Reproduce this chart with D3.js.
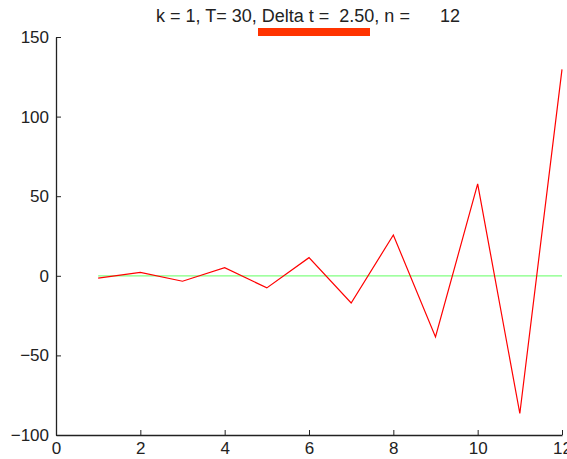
<!DOCTYPE html>
<html><head><meta charset="utf-8">
<script src="https://cdn.jsdelivr.net/npm/d3@7"></script>
<style>body{margin:0;background:#fff}svg{display:block}</style>
</head><body>
<script>
const steps = [1,2,3,4,5,6,7,8,9,10,11,12];
const approx = [-1.5, 2.2, -3.4, 5.1, -7.6, 11.4, -17.1, 25.6, -38.4, 57.7, -86.5, 129.7];
const exact = [0,0,0,0,0,0,0,0,0,0,0,0];
const xTicks = [0,2,4,6,8,10,12];
const yTicks = [-100,-50,0,50,100,150];
const title = "k = 1, T= 30, Delta t =  2.50, n =      12";

const W = 567, H = 459;
const svg = d3.select("body").append("svg").attr("width", W).attr("height", H);
const x = d3.scaleLinear().domain([0,12]).range([56, 562]);
const y = d3.scaleLinear().domain([-100,150]).range([435, 37]);
const font = "Liberation Sans, Arial, sans-serif";

// green reference line
svg.append("path").datum(steps.map((s,i)=>[s, exact[i]]))
  .attr("fill","none").attr("stroke","#80ff80").attr("stroke-width",1.2)
  .attr("d", d3.line().x(d=>x(d[0])).y(d=>y(d[1])));
// red series
svg.append("path").datum(steps.map((s,i)=>[s, approx[i]]))
  .attr("fill","none").attr("stroke","#ff0000").attr("stroke-width",1.2)
  .attr("d", d3.line().x(d=>x(d[0])).y(d=>y(d[1])));

const xAxis = svg.append("g").attr("transform","translate(0,435)")
  .call(d3.axisBottom(x).tickValues(xTicks).tickSizeInner(-5).tickSizeOuter(0).tickPadding(7));
const yAxis = svg.append("g").attr("transform","translate(56,0)")
  .call(d3.axisLeft(y).tickValues(yTicks).tickSizeInner(-5).tickSizeOuter(0).tickPadding(7));
[xAxis,yAxis].forEach(a=>{
  a.select(".domain").attr("stroke","#222").attr("stroke-width",1.3);
  a.selectAll(".tick line").attr("stroke","#222");
  a.selectAll("text").attr("font-family",font).attr("font-size",17).attr("fill","#222");
});

svg.append("text").attr("x", 308).attr("y", 22).attr("text-anchor","middle")
  .attr("font-family",font).attr("font-size",18).attr("fill","#222")
  .style("white-space","pre").text(title);
svg.append("rect").attr("x",258).attr("y",28).attr("width",112).attr("height",8).attr("fill","#ff3300");
</script>
</body></html>
